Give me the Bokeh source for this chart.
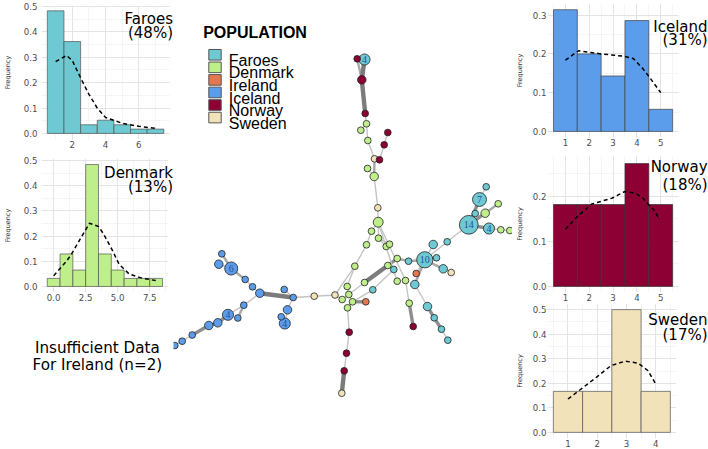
from bokeh.plotting import figure
from bokeh.layouts import row, column
from bokeh.models import Range1d, FixedTicker, Label, PrintfTickFormatter, BoxAnnotation, Div
from bokeh.core.properties import value
from bokeh.embed import file_html
from bokeh.resources import INLINE

# ---------------- data ----------------
populations = ["Faroes", "Denmark", "Ireland", "Iceland", "Norway", "Sweden"]
pop_colors = ["#6EC9D2", "#BFEF8B", "#E5774E", "#5B9DEB", "#8C0034", "#F2E2BA"]

faroes_bins = [1, 2, 3, 4, 5, 6, 7]
faroes_freq = [0.483, 0.362, 0.034, 0.052, 0.034, 0.017, 0.017]
faroes_curve_x = [1, 1.66, 2, 2.5, 3, 3.5, 4, 5, 6, 7]
faroes_curve_y = [0.283, 0.307, 0.287, 0.219, 0.154, 0.10, 0.063, 0.04, 0.028, 0.02]
faroes_xticks = [2, 4, 6]
faroes_xminor = [1, 3, 5, 7]

denmark_bins = [0, 1, 2, 3, 4, 5, 6, 7, 8]
denmark_freq = [0.032, 0.129, 0.065, 0.484, 0.129, 0.065, 0.032, 0.032, 0.032]
denmark_curve_x = [0, 1, 1.4, 2, 2.8, 3.5, 3.9, 4.6, 5.1, 5.9, 6.9, 8]
denmark_curve_y = [0.042, 0.10, 0.129, 0.182, 0.251, 0.238, 0.208, 0.142, 0.089, 0.049, 0.033, 0.023]
denmark_xticks = [0, 2.5, 5, 7.5]
denmark_xminor = [1.25, 3.75, 6.25, 8.75]

iceland_bins = [1, 2, 3, 4, 5]
iceland_freq = [0.314, 0.2, 0.143, 0.286, 0.057]
iceland_curve_x = [1, 1.55, 2.5, 3.45, 3.85, 4.25, 4.5, 5]
iceland_curve_y = [0.184, 0.208, 0.200, 0.194, 0.188, 0.162, 0.142, 0.10]

norway_bins = [1, 2, 3, 4, 5]
norway_freq = [0.182, 0.182, 0.182, 0.273, 0.182]
norway_curve_x = [1, 1.5, 2.1, 2.95, 3.5, 3.95, 4.25, 4.45, 4.75, 4.95]
norway_curve_y = [0.127, 0.155, 0.183, 0.196, 0.211, 0.207, 0.196, 0.184, 0.168, 0.148]

sweden_bins = [1, 2, 3, 4]
sweden_freq = [0.167, 0.167, 0.5, 0.167]
sweden_curve_x = [1, 1.53, 2, 2.47, 2.96, 3.4, 3.73, 4]
sweden_curve_y = [0.136, 0.184, 0.227, 0.272, 0.29, 0.282, 0.252, 0.197]

int5_ticks = [1, 2, 3, 4, 5]
int5_minor = [0.5, 1.5, 2.5, 3.5, 4.5, 5.5]
int4_ticks = [1, 2, 3, 4]
int4_minor = [0.5, 1.5, 2.5, 3.5, 4.5]
y05_ticks = [0, 0.1, 0.2, 0.3, 0.4, 0.5]
y05_minor = [0.05, 0.15, 0.25, 0.35, 0.45]
y03_ticks = [0, 0.1, 0.2, 0.3]
y03_minor = [0.05, 0.15, 0.25]
y02_ticks = [0, 0.1, 0.2]
y02_minor = [0.05, 0.15, 0.25]

# network (haplotype) nodes, layout coordinates
node_x = [356.7, 364.0, 361.3, 364.7, 366.0, 360.3, 367.3, 387.3, 383.7, 374.0,
          379.0, 367.0, 373.7, 377.3, 377.7, 485.7, 479.0, 474.7, 484.7, 497.7,
          468.3, 488.5, 500.3, 509.3, 446.7, 424.3, 432.7, 436.0, 442.7, 450.7,
          408.0, 415.7, 414.3, 396.7, 405.0, 396.7, 393.3, 387.3, 371.0, 378.0,
          366.0, 385.7, 389.0, 354.3, 364.0, 372.3, 346.7, 348.3, 341.7, 352.0,
          365.3, 347.0, 334.5, 313.7, 408.7, 412.7, 427.0, 433.7, 441.0, 447.3,
          348.7, 346.0, 343.7, 341.3, 292.7, 283.7, 259.3, 252.0, 244.7, 230.7,
          218.3, 221.3, 243.3, 237.3, 227.5, 217.3, 208.3, 191.7, 181.7, 174.3,
          287.0, 280.7, 284.3]
node_y = [58.3, 59.0, 79.3, 113.0, 123.3, 129.7, 140.0, 132.0, 144.3, 158.3,
          159.3, 168.0, 176.0, 207.3, 221.7, 186.3, 199.0, 213.0, 212.7, 203.3,
          224.3, 228.0, 229.3, 230.0, 241.3, 259.3, 244.0, 257.3, 268.3, 272.0,
          260.7, 273.0, 284.0, 258.0, 280.0, 280.7, 269.0, 265.0, 230.7, 237.7,
          244.3, 246.0, 243.7, 265.7, 282.0, 289.3, 286.0, 294.0, 299.0, 301.3,
          301.3, 307.3, 294.5, 295.7, 302.7, 326.0, 306.0, 317.3, 328.7, 339.7,
          331.7, 352.7, 370.3, 392.7, 297.0, 289.0, 292.7, 286.3, 279.0, 268.0,
          263.7, 253.3, 304.7, 317.5, 314.3, 322.3, 325.0, 334.5, 340.7, 345.0,
          309.3, 316.3, 323.0]
node_pop = ["Norway", "Faroes", "Norway", "Norway", "Denmark", "Denmark", "Denmark", "Norway", "Norway", "Sweden",
            "Norway", "Denmark", "Denmark", "Sweden", "Denmark", "Faroes", "Faroes", "Faroes", "Denmark", "Denmark",
            "Faroes", "Faroes", "Denmark", "Denmark", "Faroes", "Faroes", "Faroes", "Faroes", "Faroes", "Sweden",
            "Faroes", "Ireland", "Faroes", "Denmark", "Denmark", "Denmark", "Faroes", "Denmark", "Denmark", "Denmark",
            "Denmark", "Denmark", "Denmark", "Denmark", "Denmark", "Faroes", "Denmark", "Denmark", "Denmark", "Denmark",
            "Ireland", "Denmark", "Sweden", "Sweden", "Denmark", "Norway", "Faroes", "Faroes", "Faroes", "Faroes",
            "Norway", "Norway", "Norway", "Sweden", "Iceland", "Iceland", "Iceland", "Iceland", "Iceland", "Iceland",
            "Iceland", "Iceland", "Iceland", "Iceland", "Iceland", "Iceland", "Iceland", "Iceland", "Iceland", "Iceland",
            "Iceland", "Iceland", "Iceland"]
node_count = [1, 4, 2, 1, 1, 1, 1, 1, 1, 1,
              1, 1, 2, 1, 3, 1, 7, 1, 2, 1,
              14, 4, 1, 1, 1, 10, 2, 1, 2, 1,
              1, 1, 2, 1, 1, 1, 1, 1, 1, 1,
              1, 1, 1, 1, 1, 1, 1, 1, 1, 1,
              1, 1, 1, 1, 1, 1, 2, 1, 1, 1,
              1, 1, 1, 1, 1, 1, 2, 1, 1, 6,
              2, 1, 1, 1, 4, 2, 2, 1, 1, 1,
              2, 1, 4]
# edges: (from, to, weight)
edges = [(0, 2, 2), (1, 2, 4), (2, 3, 4), (3, 4, 1), (4, 5, 1), (4, 6, 1), (6, 9, 1), (7, 8, 1),
         (8, 10, 1), (9, 10, 1), (9, 12, 2), (11, 12, 1), (12, 13, 1), (13, 14, 1),
         (15, 16, 1), (16, 20, 3), (17, 20, 1), (18, 20, 3), (18, 19, 2), (20, 21, 3), (21, 22, 1),
         (22, 23, 1), (20, 24, 1), (24, 25, 1),
         (25, 26, 1), (25, 27, 1), (25, 28, 2), (28, 29, 1), (25, 31, 1), (25, 30, 2), (30, 33, 2),
         (33, 37, 3), (37, 44, 4), (25, 32, 2), (32, 56, 1), (56, 57, 3), (57, 58, 3), (58, 59, 1),
         (14, 38, 1), (38, 40, 1), (40, 43, 1), (43, 46, 1), (14, 39, 1), (39, 41, 1), (39, 42, 1),
         (14, 35, 1), (14, 34, 1), (34, 54, 1), (54, 55, 3), (36, 45, 1), (45, 49, 1), (44, 47, 1),
         (46, 47, 1), (47, 48, 1), (47, 49, 1), (49, 50, 3), (49, 51, 1), (48, 52, 1), (52, 53, 1),
         (53, 64, 1), (51, 60, 1), (60, 61, 1), (61, 62, 1), (62, 63, 4), (43, 52, 1),
         (64, 66, 4), (64, 65, 1), (66, 67, 1), (67, 68, 1), (68, 69, 2), (69, 70, 1), (69, 71, 2),
         (66, 72, 1), (72, 73, 2), (72, 74, 1), (74, 75, 3), (75, 76, 3), (76, 77, 3), (77, 78, 1),
         (78, 79, 1), (80, 82, 1), (81, 82, 1), (64, 80, 1)]

# ---------------- styles ----------------
FONT = "DejaVu Sans"
edge_width = {1: 1.4, 2: 2.4, 3: 3.4, 4: 4.4}
edge_color = {1: "#C4C4C4", 2: "#A8A8A8", 3: "#8E8E8E", 4: "#7C7C7C"}
color_of = dict(zip(populations, pop_colors))


def hist_panel(bins, freq, cx, cy, color, outline, xr, yr, xticks, xminor, xfmt,
               yticks, yminor, w, h, bl, bt, bb, panel_right, title, pct, right_px, base1, base2,
               ystand_lab, ystand_ax):
    # panel (ggplot-like) spans xr; the frame is extended to the right edge for the title
    ppu = (panel_right - bl) / (xr[1] - xr[0])
    x_end = xr[1] + (w - panel_right) / ppu
    p = figure(width=w, height=h, x_range=Range1d(xr[0], x_end), y_range=Range1d(*yr),
               output_backend="svg", toolbar_location=None,
               min_border_left=bl, min_border_right=0, min_border_top=bt, min_border_bottom=bb)
    p.outline_line_color = None
    p.vbar(x=bins, top=freq, width=1, bottom=0, fill_color=color, line_color=outline, line_width=0.7)
    p.line(cx, cy, line_dash="4 3", line_width=1.5, line_color="black")
    p.xaxis.ticker = FixedTicker(ticks=xticks, minor_ticks=xminor)
    p.yaxis.ticker = FixedTicker(ticks=yticks, minor_ticks=yminor)
    p.xaxis.formatter = PrintfTickFormatter(format=xfmt)
    p.yaxis.formatter = PrintfTickFormatter(format="%.1f")
    for ax in (p.xaxis, p.yaxis):
        ax.axis_line_color = None
        ax.major_tick_line_color = None
        ax.minor_tick_line_color = None
        ax.major_tick_out = 0
        ax.major_tick_in = 0
        ax.minor_tick_out = 0
        ax.minor_tick_in = 0
        ax.major_label_text_font = FONT
        ax.major_label_text_font_size = "8.6px"
        ax.major_label_text_color = "#4D4D4D"
    p.xaxis.major_label_standoff = 1
    p.yaxis.major_label_standoff = ystand_lab
    p.yaxis.axis_label = "Frequency"
    p.yaxis.axis_label_text_font = FONT
    p.yaxis.axis_label_text_font_size = "6.5px"
    p.yaxis.axis_label_text_font_style = "normal"
    p.yaxis.axis_label_text_color = "#333333"
    p.yaxis.axis_label_standoff = ystand_ax
    for g in (p.xgrid, p.ygrid):
        g.grid_line_color = "#E4E4E4"
        g.grid_line_width = 1
        g.minor_grid_line_color = "#F1F1F1"
        g.minor_grid_line_width = 0.7
    # blank the strip right of the panel (title area)
    p.add_layout(BoxAnnotation(left=xr[1], right=x_end, bottom=yr[0], top=yr[1],
                               fill_color="white", fill_alpha=1, line_alpha=0))
    fy0, fy1 = bt, h - bb
    tx = xr[1] + (right_px - panel_right) / ppu
    for txt, base in ((title, base1), ("(" + pct + ")", base2)):
        ty = yr[1] - (base - fy0) * (yr[1] - yr[0]) / (fy1 - fy0)
        p.add_layout(Label(x=tx, y=ty, text=txt, text_align="right", text_baseline="alphabetic",
                           text_font=FONT, text_font_size="15px", text_color="black"))
    return p


LW, MW, RW = 173, 339, 196

faroes = hist_panel(faroes_bins, faroes_freq, faroes_curve_x, faroes_curve_y, color_of["Faroes"], "#555555",
                    (0.15, 7.85), (-0.024, 0.504), faroes_xticks, faroes_xminor, "%d",
                    y05_ticks, y05_minor, LW, 150, 36, 5, 11, 169, "Faroes", "48%", 172.5, 18, 32, 4, 9)
denmark = hist_panel(denmark_bins, denmark_freq, denmark_curve_x, denmark_curve_y, color_of["Denmark"], "#555555",
                     (-0.95, 8.95), (-0.024, 0.508), denmark_xticks, denmark_xminor, "%.1f",
                     y05_ticks, y05_minor, LW, 153, 36, 8, 11, 167.6, "Denmark", "13%", 172.5, 22.3, 36.7, 4, 9)

iceland = hist_panel(iceland_bins, iceland_freq, iceland_curve_x, iceland_curve_y, color_of["Iceland"], "#444444",
                     (0.25, 5.75), (-0.0157, 0.33), int5_ticks, int5_minor, "%d",
                     y03_ticks, y03_minor, RW, 148, 29, 3, 11, 165, "Iceland", "31%", 195, 26, 39, 1, 6)
norway = hist_panel(norway_bins, norway_freq, norway_curve_x, norway_curve_y, color_of["Norway"], "#333333",
                    (0.25, 5.75), (-0.0136, 0.291), int5_ticks, int5_minor, "%d",
                    y02_ticks, y02_minor, RW, 155, 29, 7, 11, 165, "Norway", "18%", 195, 18.7, 36.3, 1, 6)
sweden = hist_panel(sweden_bins, sweden_freq, sweden_curve_x, sweden_curve_y, color_of["Sweden"], "#555555",
                    (0.3, 4.7), (-0.025, 0.525), int4_ticks, int4_minor, "%d",
                    y05_ticks, y05_minor, RW, 146, 29, 0, 11, 162.5, "Sweden", "17%", 195, 16.3, 31.3, 1, 6)

note = Div(width=LW, height=146, margin=0,
           text='<div style="font-family:\'DejaVu Sans\'; font-size:15.2px; line-height:17.6px; '
                'text-align:center; color:black; width:150px; margin-left:22.4px; padding-top:36.7px;">'
                'Insufficient Data<br>For Ireland (n=2)</div>')

# network figure (layout coordinates, y downwards)
net = figure(width=MW, height=449, x_range=Range1d(173, 512), y_range=Range1d(449, 0),
             output_backend="svg", toolbar_location=None, x_axis_type=None, y_axis_type=None,
             min_border=0)
net.outline_line_color = None
net.grid.visible = False

net.segment(x0=[node_x[a] for a, b, w in edges], y0=[node_y[a] for a, b, w in edges],
            x1=[node_x[b] for a, b, w in edges], y1=[node_y[b] for a, b, w in edges],
            line_width=[edge_width[w] for a, b, w in edges],
            line_color=[edge_color[w] for a, b, w in edges])

order = sorted(range(len(node_x)), key=lambda i: -node_count[i])
net.scatter(x=[node_x[i] for i in order], y=[node_y[i] for i in order],
            size=[2.3 + 4.4 * node_count[i] ** 0.5 for i in order],
            fill_color=[color_of[node_pop[i]] for i in order],
            line_color="#222222", line_width=0.8)

lab_idx = [i for i in range(len(node_x)) if node_count[i] >= 4]
net.text(x=[node_x[i] for i in lab_idx], y=[node_y[i] for i in lab_idx],
         text=[str(node_count[i]) for i in lab_idx],
         text_font=value("Liberation Serif"), text_font_size="10px", text_color="#2B4C9B",
         text_align="center", text_baseline="middle")

# legend (keys laid out by index)
key_x, key_y0, key_step = 214.5, 54.3, 12.55
key_y = [key_y0 + key_step * i for i in range(len(populations))]
net.rect(x=[key_x] * len(populations), y=key_y, width=12.4, height=10.6,
         fill_color=pop_colors, line_color="#555555", line_width=1)
net.text(x=[228.3] * len(populations), y=[k + 5.6 for k in key_y], text=populations,
         text_font=value("Liberation Sans"), text_font_size="16px", text_color="black",
         text_align="left", text_baseline="alphabetic")
net.add_layout(Label(x=202.7, y=31.6, text="POPULATION", text_font="Liberation Sans",
                     text_font_style="bold", text_font_size="16px", text_color="black",
                     text_align="left", text_baseline="alphabetic"))

layout = row(column(faroes, denmark, note), net, column(iceland, norway, sweden))

with open("out.html", "w") as f:
    f.write(file_html(layout, INLINE))
